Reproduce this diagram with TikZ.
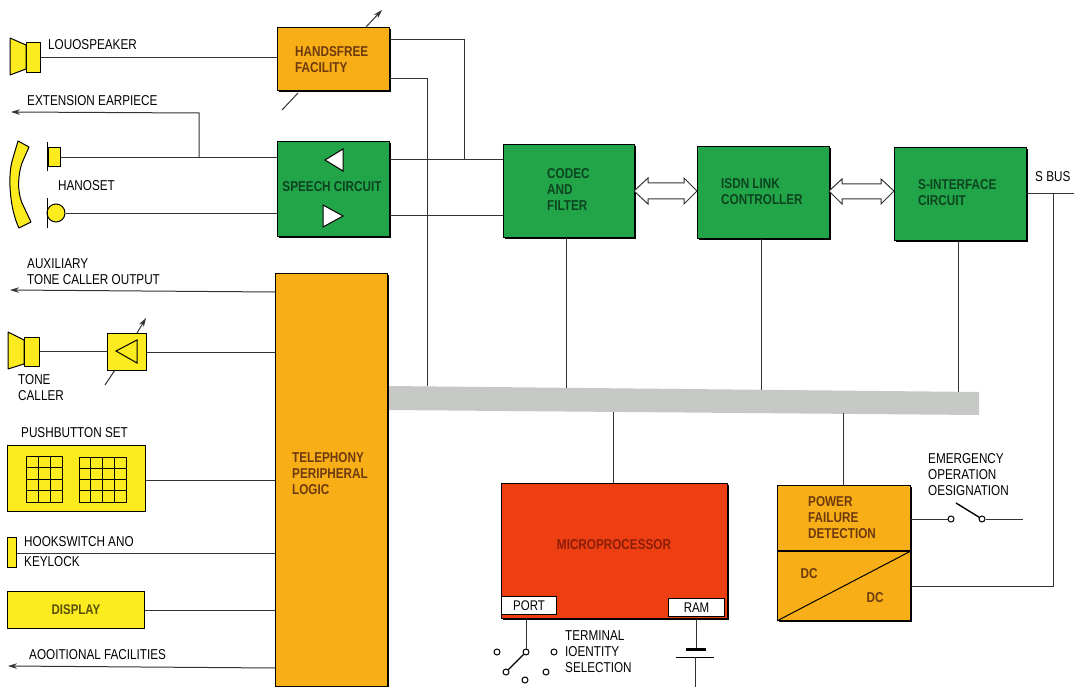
\documentclass[tikz,border=0pt]{standalone}
\usepackage{fontspec}
\setmainfont[FakeStretch=0.82]{Liberation Sans}
\usetikzlibrary{shadows,arrows.meta}
\definecolor{ylw}{HTML}{FCEB1E}
\definecolor{org}{HTML}{F8AE16}
\definecolor{grn}{HTML}{22A548}
\definecolor{redb}{HTML}{EE3F12}
\definecolor{busg}{HTML}{C6C8C6}
\definecolor{ln}{HTML}{333333}
\definecolor{txo}{HTML}{6E3A10}
\definecolor{txg}{HTML}{0C4420}
\definecolor{txr}{HTML}{8C1E08}
\tikzset{
 conn/.style={draw=ln,line width=1pt},
 arr/.style={conn,-{Stealth[length=9pt,width=5.5pt]}},
 block/.style={rectangle,draw=black,line width=0.9pt,anchor=north west,inner sep=0pt,
   drop shadow={shadow xshift=2pt,shadow yshift=-2pt,fill=black,opacity=1}},
 plainb/.style={rectangle,draw=black,line width=1pt,anchor=north west,inner sep=0pt},
 lab/.style={font=\fontsize{14.3}{16}\selectfont,anchor=west,inner sep=0pt,text=black,align=left},
 inl/.style={font=\fontsize{14.3}{16}\selectfont\bfseries,anchor=west,inner sep=0pt,align=left},
 hollow/.style={draw=ln,line width=1pt,fill=white,line join=miter},
 contact/.style={circle,draw=black,line width=1pt,fill=white,inner sep=0pt,minimum size=6pt},
 sym/.style={draw=black,line width=1pt,fill=ylw,line join=round},
 tri/.style={draw=black,line width=1pt,fill=white,line join=miter},
}
\begin{document}
\begin{tikzpicture}[x=1pt,y=-1pt]
\useasboundingbox (0,0) rectangle (1074,687);
% bus
\path[fill=busg] (388,386) -- (979,392) -- (979,415) -- (388,410) -- cycle;
\coordinate (busa) at (427,386);
\coordinate (busb) at (566,388);
\coordinate (busc) at (761,390);
\coordinate (busd) at (958,392);
\coordinate (buse) at (613,412);
\coordinate (busf) at (843,413);
% blocks
\node[block,fill=org,minimum width=112pt,minimum height=63pt] (hf) at (277,27) {};
\node[block,fill=grn,minimum width=112pt,minimum height=95pt] (sp) at (277,141) {};
\node[block,fill=grn,minimum width=131pt,minimum height=93pt] (co) at (503,144) {};
\node[block,fill=grn,minimum width=132pt,minimum height=92pt] (is) at (697,146) {};
\node[block,fill=grn,minimum width=132pt,minimum height=93pt] (si) at (894,147) {};
\node[block,fill=org,minimum width=112pt,minimum height=413pt] (tp) at (275,273) {};
\node[block,fill=redb,minimum width=226pt,minimum height=135pt] (mp) at (501,483) {};
\node[block,fill=org,minimum width=133pt,minimum height=135pt] (pf) at (777,485) {};
% block text
\node[inl,text=txo] (t1) at (295,60) {HANDSFREE\\FACILITY};
\node[inl,text=txg,anchor=center] (t2) at (332,187) {SPEECH CIRCUIT};
\node[inl,text=txg] (t3) at (547,190) {CODEC\\AND\\FILTER};
\node[inl,text=txg] (t4) at (721,192) {ISDN LINK\\CONTROLLER};
\node[inl,text=txg] (t5) at (918,193) {S-INTERFACE\\CIRCUIT};
\node[inl,text=txo] (t6) at (292,474) {TELEPHONY\\PERIPHERAL\\LOGIC};
\node[inl,text=txr,anchor=center] (t7) at (614,545) {MICROPROCESSOR};
\node[inl,text=txo] (t8) at (808,518) {POWER\\FAILURE\\DETECTION};
\node[inl,text=txo,anchor=center] (t9) at (809,574) {DC};
\node[inl,text=txo,anchor=center] (t10) at (875,598) {DC};
% port, ram
\node[plainb,fill=white,minimum width=55pt,minimum height=18pt,font=\fontsize{14}{14}\selectfont] (port) at (501,596) {PORT};
\node[plainb,fill=white,minimum width=56pt,minimum height=18pt,font=\fontsize{14}{14}\selectfont] (ram) at (668,598) {RAM};
% power divider
\draw[black,line width=1.2pt] (pf.west |- 0,551) coordinate (pd1) -- (pf.east |- 0,551) coordinate (pd2);
\draw[black,line width=1pt] (pf.south west) -- (pd2);
% left yellow boxes
\node[plainb,fill=ylw,minimum width=138pt,minimum height=66pt] (pb) at (7,445) {};
\node[plainb,fill=ylw,minimum width=9pt,minimum height=30pt] (hk) at (7,537) {};
\node[plainb,fill=ylw,minimum width=137pt,minimum height=37pt,font=\fontsize{14}{14}\selectfont\bfseries,text=black!65!ylw] (dp) at (7,591) {DISPLAY};
\node[plainb,fill=ylw,minimum width=39pt,minimum height=37pt] (am) at (107,333) {};
% loudspeaker
\draw[sym] (10,38) -- (26,45) -- (26,69) -- (10,75) -- cycle;
\node[plainb,fill=ylw,minimum width=14pt,minimum height=30pt] (ls) at (26,42) {};
% tone caller speaker
\draw[sym] (8,332) -- (24,340) -- (24,364) -- (8,369) -- cycle;
\node[plainb,fill=ylw,minimum width=15pt,minimum height=29pt] (tc) at (24,337) {};
% handset
\draw[sym] (18,141) -- (29,147) -- (22,163) .. controls (18,175) and (17,190) .. (22,203) -- (31,222) -- (19,228) .. controls (10,210) and (7,175) .. (13,158) -- cycle;
\node[plainb,fill=ylw,minimum width=12pt,minimum height=19pt] (ep) at (48,147) {};
\draw[black,line width=1.2pt] (47.5,142) -- (47.5,171);
\node[circle,draw=black,line width=1pt,fill=ylw,minimum size=18pt,inner sep=0pt] (mc) at (56,213) {};
\draw[black,line width=1.2pt] (47.5,198) -- (47.5,228);
% triangles
\draw[tri] (325,160) -- (343,149) -- (343,171) -- cycle;
\draw[tri] (323,205) -- (343,216) -- (323,227) -- cycle;
\draw[draw=black,line width=1pt,fill=ylw] (116,351) -- (137,340) -- (137,363) -- cycle;
% keypads
\draw[black,line width=0.9pt,xstep=12pt,ystep=11.5pt,shift={(26,456)}] (0,0) grid (36,46) (0,0) rectangle (36,46);
\draw[black,line width=0.9pt,xstep=11.75pt,ystep=11.25pt,shift={(79,457)}] (0,0) grid (47,45) (0,0) rectangle (47,45);
% connectors
\draw[conn] (ls.east |- 0,58) -- (hf.west |- 0,58);
\coordinate (n1) at (464,160);
\draw[conn] (hf.east |- 0,40) -| (n1);
\draw[conn] (hf.east |- 0,79) -| (busa);
\draw[conn] (ep.east |- 0,158) -- (sp.west |- 0,158);
\coordinate (ex) at (11,112);
\draw[arr] (199,158) -- (199,113) -- (ex);
\draw[conn] (mc.east |- 0,214) -- (sp.west |- 0,214);
\draw[conn] (sp.east |- 0,160) -- (co.west |- 0,160);
\draw[conn] (sp.east |- 0,216) -- (co.west |- 0,216);
\draw[conn] (co.south -| 566,0) -- (busb);
\draw[conn] (is.south -| 761,0) -- (busc);
\draw[conn] (si.south -| 958,0) -- (busd);
\draw[conn] (mp.north -| 613,0) -- (buse);
\draw[conn] (pf.north -| 843,0) -- (busf);
\coordinate (sb) at (1074,194);
\draw[conn] (si.east |- 0,194) -- (sb);
\draw[conn] (1053,194) -- (1053,586) -- (pf.east |- 0,586);
\coordinate (aux) at (10,290);
\draw[arr] (tp.west |- 0,292) -- (aux);
\draw[conn] (tc.east |- 0,351) -- (am.west |- 0,351);
\draw[conn] (am.east |- 0,352) -- (tp.west |- 0,352);
\draw[conn] (pb.east |- 0,480) -- (tp.west |- 0,480);
\draw[conn] (hk.east |- 0,553) -- (tp.west |- 0,553);
\draw[conn] (dp.east |- 0,610) -- (tp.west |- 0,610);
\coordinate (add) at (8,666);
\draw[arr] (tp.west |- 0,668) -- (add);
% trim arrows
\draw[arr] (366,27) -- (382,10);
\draw[conn] (298,93) -- (282,110);
\draw[arr] (137,333) -- (146,318);
\draw[conn] (115,370) -- (105,385);
% hollow double arrows
\draw[hollow] (634,191) -- (648,178) -- (648,183) -- (684,183) -- (684,178) -- (697,191) -- (684,204) -- (684,199) -- (648,199) -- (648,204) -- cycle;
\draw[hollow] (829,191) -- (842,179) -- (842,184) -- (881,184) -- (881,179) -- (894,191) -- (881,204) -- (881,199) -- (842,199) -- (842,204) -- cycle;
% terminal switch
\node[contact] (c1) at (497,652) {};
\node[contact] (c2) at (526,652) {};
\node[contact] (c3) at (554,652) {};
\node[contact] (c4) at (546,672) {};
\node[contact] (c5) at (525,680) {};
\node[contact] (c6) at (506,672) {};
\draw[conn] (mp.south -| 526,0) -- (c2);
\draw[black,line width=1.2pt] (c6) -- (c2);
% battery
\coordinate (bt) at (696,648);
\draw[conn] (mp.south -| 696,0) -- (bt);
\draw[black,line width=3pt] (686,649) -- (706,649);
\draw[black,line width=1pt] (676,657) -- (714,657);
\coordinate (bb) at (695,687);
\draw[conn] (695,657) -- (bb);
% emergency switch
\node[contact] (e1) at (951,519) {};
\node[contact] (e2) at (982,519) {};
\coordinate (e0) at (956,503);
\coordinate (e3) at (1023,519);
\draw[conn] (pf.east |- e1) -- (e1);
\draw[black,line width=1.4pt] (e0) -- (e2);
\draw[conn] (e2) -- (e3);
% labels
\node[lab] (l1) at (48,45) {LOUOSPEAKER};
\node[lab] (l2) at (27,101) {EXTENSION EARPIECE};
\node[lab] (l3) at (58,186) {HANOSET};
\node[lab] (l4) at (27,272) {AUXILIARY\\TONE CALLER OUTPUT};
\node[lab] (l5) at (18,388) {TONE\\CALLER};
\node[lab] (l6) at (21,433) {PUSHBUTTON SET};
\node[lab] (l7) at (24,542) {HOOKSWITCH ANO};
\node[lab] (l8) at (24,562) {KEYLOCK};
\node[lab] (l9) at (29,655) {AOOITIONAL FACILITIES};
\node[lab] (l10) at (1035,177) {S BUS};
\node[lab] (l11) at (565,652) {TERMINAL\\IOENTITY\\SELECTION};
\node[lab] (l12) at (928,475) {EMERGENCY\\OPERATION\\OESIGNATION};
\end{tikzpicture}
\end{document}
